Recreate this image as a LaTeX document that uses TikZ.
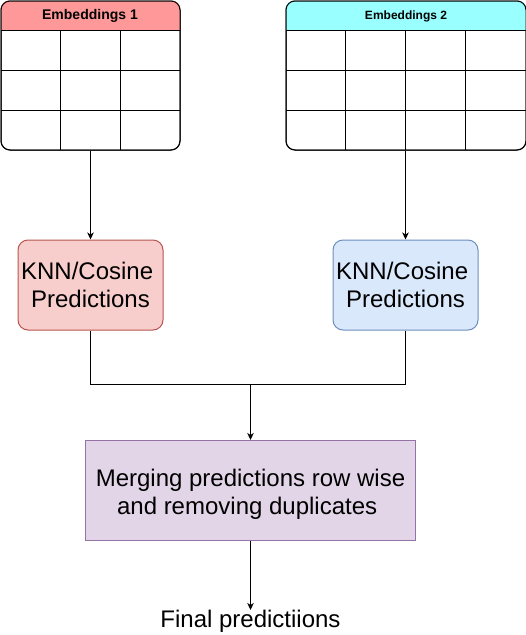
\documentclass[tikz,border=0pt]{standalone}
\usepackage{fontspec}
\setmainfont{Liberation Sans}
\usetikzlibrary{arrows.meta}
\definecolor{hdrA}{HTML}{FF9999}
\definecolor{hdrB}{HTML}{99FFFF}
\definecolor{redF}{HTML}{F8CECC}
\definecolor{redS}{HTML}{B85450}
\definecolor{bluF}{HTML}{DAE8FC}
\definecolor{bluS}{HTML}{6C8EBF}
\definecolor{purF}{HTML}{E1D5E7}
\definecolor{purS}{HTML}{9673A6}
\begin{document}
\begin{tikzpicture}[x=1pt,y=-1pt,
  tbl/.style={draw=black,line width=1pt,rounded corners=9pt,inner sep=0pt},
  predbox/.style={draw,line width=1pt,rounded corners=10pt,minimum width=145pt,minimum height=90pt,align=center,inner sep=0pt,font=\fontsize{24}{28}\selectfont},
  mergebox/.style={draw=purS,fill=purF,line width=1pt,minimum width=330pt,minimum height=100pt,inner sep=0pt},
  bigtext/.style={align=center,inner sep=0pt,font=\fontsize{24}{28}\selectfont},
  hdr/.style={font=\bfseries\fontsize{#1}{#1}\selectfont,inner sep=0pt},
  arr/.style={line width=1pt,-{Stealth[length=7pt,width=6.5pt,inset=2pt]}},
  conn/.style={line width=1pt}]
\useasboundingbox (0,0) rectangle (526,635);
% Table 1
\node[tbl,minimum width=179pt,minimum height=149pt] (t1) at (90.5,75.5) {};
\begin{scope}
  \clip[rounded corners=9pt] (t1.north west) rectangle (t1.south east);
  \fill[hdrA] (t1.north west) rectangle (180,30.5);
\end{scope}
\draw[line width=1pt] (1,30.5) -- (180,30.5) (1,70.5) -- (180,70.5) (1,110.5) -- (180,110.5)
  (60.5,30.5) -- (60.5,150) (120.5,30.5) -- (120.5,150);
\node[tbl,minimum width=179pt,minimum height=149pt] at (t1.center) {};
\node[hdr=14] (h1) at (90,16) {Embeddings 1};
% Table 2
\node[tbl,minimum width=240pt,minimum height=149pt] (t2) at (406,75.5) {};
\begin{scope}
  \clip[rounded corners=9pt] (t2.north west) rectangle (t2.south east);
  \fill[hdrB] (t2.north west) rectangle (526,30.5);
\end{scope}
\draw[line width=1pt] (286,30.5) -- (526,30.5) (286,70.5) -- (526,70.5) (286,110.5) -- (526,110.5)
  (345.5,30.5) -- (345.5,150) (405.5,30.5) -- (405.5,150) (465.5,30.5) -- (465.5,150);
\node[tbl,minimum width=240pt,minimum height=149pt] at (t2.center) {};
\node[hdr=12] (h2) at (406,16) {Embeddings 2};
% Prediction boxes
\node[predbox,draw=redS,fill=redF] (p1) at (90.5,285) {KNN/Cosine\rule{6.7pt}{0pt}\\Predictions};
\node[predbox,draw=bluS,fill=bluF] (p2) at (405.5,285) {KNN/Cosine\rule{6.7pt}{0pt}\\Predictions};
% Merge box
\node[mergebox] (m) at (250.5,490.5) {};
\node[bigtext] (mt) at ([yshift=-3.5pt]m.center) {Merging predictions row wise\\and removing duplicates\rule{6.7pt}{0pt}};
\node[bigtext,anchor=north] (f) at (250.5,610) {Final predictiions};
\coordinate (j) at (250.5,384.5);
% Connectors
\draw[arr] (t1.south -| p1.north) -- (p1.north);
\draw[arr] (t2.south -| p2.north) -- (p2.north);
\draw[conn] (p1.south) |- (j);
\draw[conn] (p2.south) |- (j);
\draw[arr] (j) -- (m.north);
\draw[arr] (m.south) -- (f.north);
\end{tikzpicture}
\end{document}
